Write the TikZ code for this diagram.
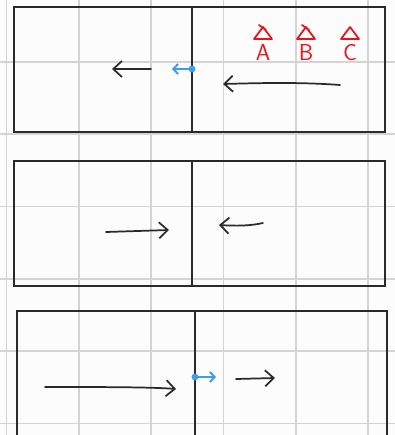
\documentclass[tikz,border=0pt]{standalone}
\usepackage{tikz}
\usetikzlibrary{arrows.meta}

\definecolor{paper}{HTML}{FCFCFC}
\definecolor{gridgray}{HTML}{D4D4D4}
\definecolor{ink}{HTML}{2A2A2A}
\definecolor{redink}{HTML}{E8141C}
\definecolor{blueink}{HTML}{3D9BF2}

\tikzset{
  wall/.style={draw=ink, line width=1.6pt},
  move/.style={draw=ink, line width=1.3pt, line cap=round,
    -{Straight Barb[length=6.5pt,width=12pt,line width=1.3pt]}},
  kick/.style={draw=blueink, line width=1.5pt, line cap=round,
    -{Straight Barb[length=3.5pt,width=7.5pt,line width=1.5pt]}},
  tag/.style={draw=redink, line width=1.3pt, line join=round, line cap=round},
  taglabel/.style={text=redink, font=\sffamily\LARGE, inner sep=0pt}
}

\begin{document}
\begin{tikzpicture}[x=0.75pt,y=-0.75pt]

  % page and background grid
  \useasboundingbox (0,0) rectangle (395,435);
  \clip (0,0) rectangle (395,435);
  \fill[paper] (0,0) rectangle (395,435);
  \def\gs{72.3}
  \foreach \i in {0,...,5} {
    \draw[gridgray, line width=1.3pt] (6.5+\i*\gs,0) -- (6.5+\i*\gs,435);
    \draw[gridgray, line width=1.3pt] (0,62+\i*\gs) -- (395,62+\i*\gs);
  }

  % top frame: before the collision
  \draw[wall] (14,7) rectangle (385,132);
  \draw[wall] (192,7) -- (192,132);
  \draw[move] (151,69) -- (112,69);
  \draw[kick] (192,69) -- (172,69);
  \fill[blueink] (192,69) circle (2.6pt);
  \draw[move] (340,85) .. controls (300,82) and (260,83) .. (223,84);

  % labels A, B, C
  \foreach \x/\l in {263/A,306/B,350/C} {
    \draw[tag] (\x-9,39) -- (\x,27) -- (\x+9,39) -- cycle;
    \node[taglabel] (lab\l) at (\x,53) {\l};
  }
  \draw[tag] (259,25) -- (266,30);
  \draw[tag] (302,25) -- (309,30);

  % middle frame
  \draw[wall] (14,161) rectangle (385,286);
  \draw[wall] (192,161) -- (192,286);
  \draw[move] (106,232) -- (169,230);
  \draw[move] (263,223) .. controls (250,226) and (235,226) .. (219,225);

  % bottom frame: after the collision
  \draw[wall] (17,311) rectangle (387,445);
  \draw[wall] (195,311) -- (195,445);
  \draw[move] (45,387) .. controls (100,387) and (150,387) .. (176,389);
  \draw[kick] (195,377) -- (216,377);
  \fill[blueink] (195,377) circle (2.6pt);
  \draw[move] (236,379) -- (275,378);

\end{tikzpicture}
\end{document}
